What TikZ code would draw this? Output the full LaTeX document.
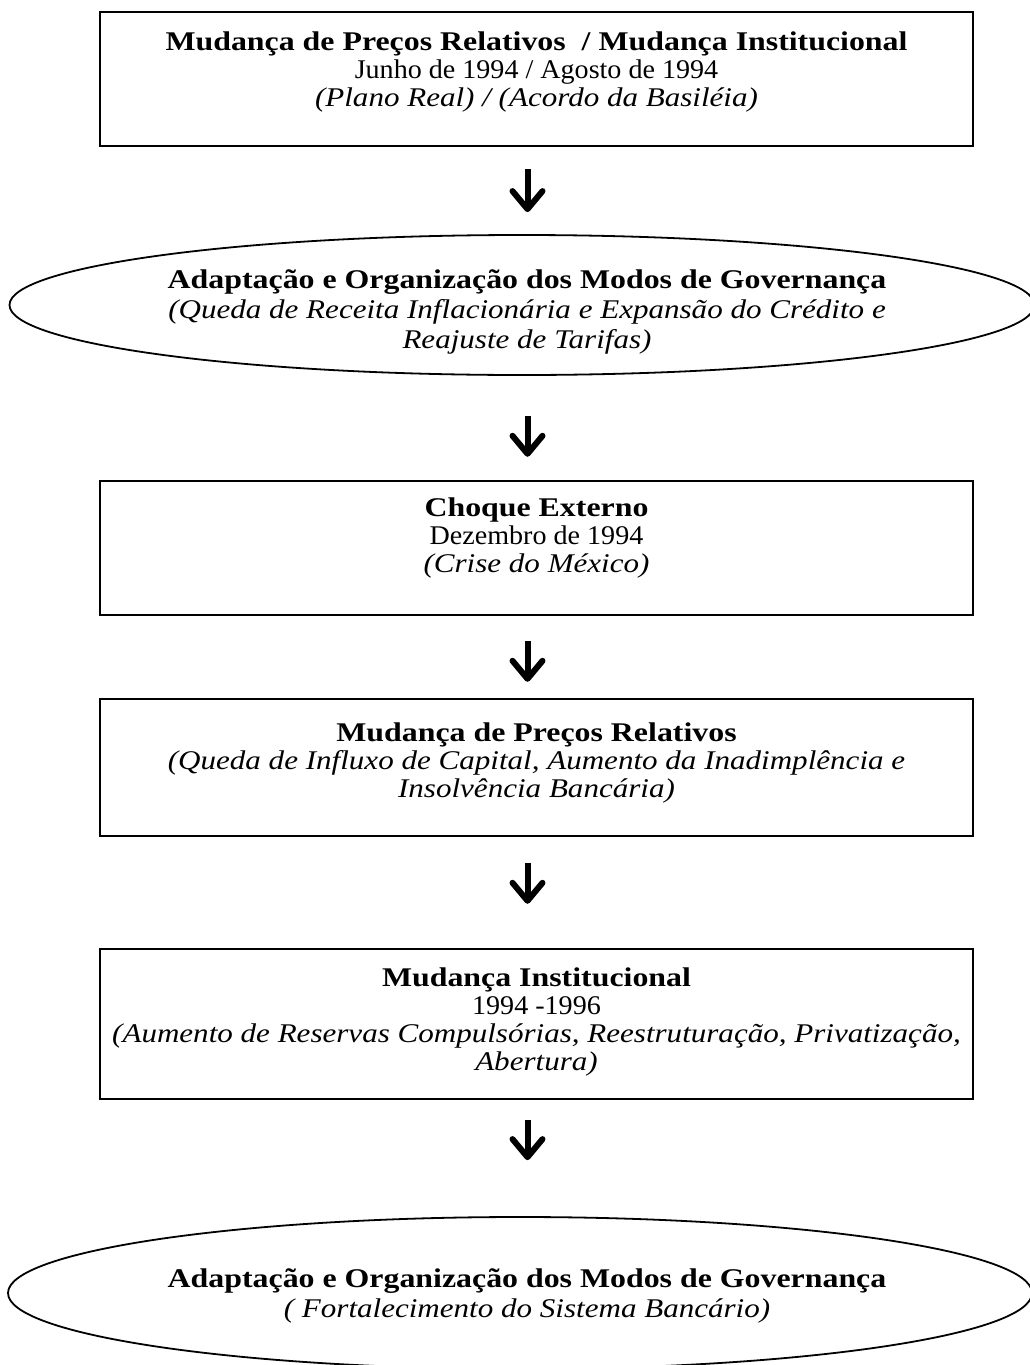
\documentclass[tikz,border=0pt]{standalone}
\usepackage{fontspec}
\setmainfont{Liberation Serif}[
  UprightFeatures={FakeStretch=1.04},
  BoldFeatures={FakeStretch=1.18},
  ItalicFeatures={FakeStretch=1.15}]
\usetikzlibrary{shapes.geometric,arrows.meta}

\tikzset{
  stagebox/.style={draw,line width=1.2pt,minimum width=436.5pt,inner sep=0pt},
  phase/.style={draw,ellipse,line width=0.9pt,inner sep=0pt},
  stagetext/.style={align=center,inner sep=0pt,font=\fontsize{13.5}{14}\selectfont},
  phasetext/.style={align=center,inner sep=0pt,font=\fontsize{13.5}{14.8}\selectfont},
  flow/.style={line width=3pt,-{Straight Barb[length=9pt,width=15pt,round]}}
}

\begin{document}
\begin{tikzpicture}[x=0.5pt,y=-0.5pt]
  \useasboundingbox (0,0) rectangle (1029,1365);
  % boxes and ellipses, top to bottom
  \node[stagebox,minimum height=67pt] (shock1) at (536.5,79) {};
  \node[stagetext] (shock1-txt) at (536.5,72)
    {\textbf{Mudança de Preços Relativos\ \ / Mudança Institucional}\\
     Junho de 1994 / Agosto de 1994\\
     \textit{(Plano Real) / (Acordo da Basiléia)}};
  \node[phase,minimum width=512.5pt,minimum height=70pt] (adapt1) at (522,305) {};
  \node[phasetext] (adapt1-txt) at (527,312)
    {\textbf{Adaptação e Organização dos Modos de Governança}\\
     \textit{(Queda de Receita Inflacionária e Expansão do Crédito e}\\
     \textit{Reajuste de Tarifas)}};
  \node[stagebox,minimum height=67pt] (extern) at (536.5,548) {};
  \node[stagetext] (extern-txt) at (536.5,538)
    {\textbf{Choque Externo}\\
     Dezembro de 1994\\
     \textit{(Crise do México)}};
  \node[stagebox,minimum height=68.5pt] (prices) at (536.5,767.5) {};
  \node[stagetext] (prices-txt) at (536.5,763)
    {\textbf{Mudança de Preços Relativos}\\
     \textit{(Queda de Influxo de Capital, Aumento da Inadimplência e}\\
     \textit{Insolvência Bancária)}};
  \node[stagebox,minimum height=75pt] (instit) at (536.5,1024) {};
  \node[stagetext] (instit-txt) at (536.5,1022)
    {\textbf{Mudança Institucional}\\
     1994 -1996\\
     \textit{(Aumento de Reservas Compulsórias, Reestruturação, Privatização,}\\
     \textit{Abertura)}};
  \node[phase,minimum width=512pt,minimum height=76pt] (adapt2) at (520,1293) {};
  \node[phasetext] (adapt2-txt) at (527,1296)
    {\textbf{Adaptação e Organização dos Modos de Governança}\\
     \textit{( Fortalecimento do Sistema Bancário)}};

  % arrows
  \draw[flow,shorten <=11pt,shorten >=11pt] ([xshift=-4.5pt]shock1.south) -- ([xshift=-4.5pt]shock1.south |- adapt1.north);
  \draw[flow,shorten <=20pt,shorten >=11.5pt] ([xshift=-4.5pt]shock1.south |- adapt1.south) -- ([xshift=-4.5pt]extern.north);
  \draw[flow,shorten <=12.5pt,shorten >=8pt] ([xshift=-4.5pt]extern.south) -- ([xshift=-4.5pt]prices.north);
  \draw[flow,shorten <=13pt,shorten >=22pt] ([xshift=-4.5pt]prices.south) -- ([xshift=-4.5pt]instit.north);
  \draw[flow,shorten <=10pt,shorten >=28pt] ([xshift=-4.5pt]instit.south) -- ([xshift=-4.5pt]instit.south |- adapt2.north);
\end{tikzpicture}
\end{document}
